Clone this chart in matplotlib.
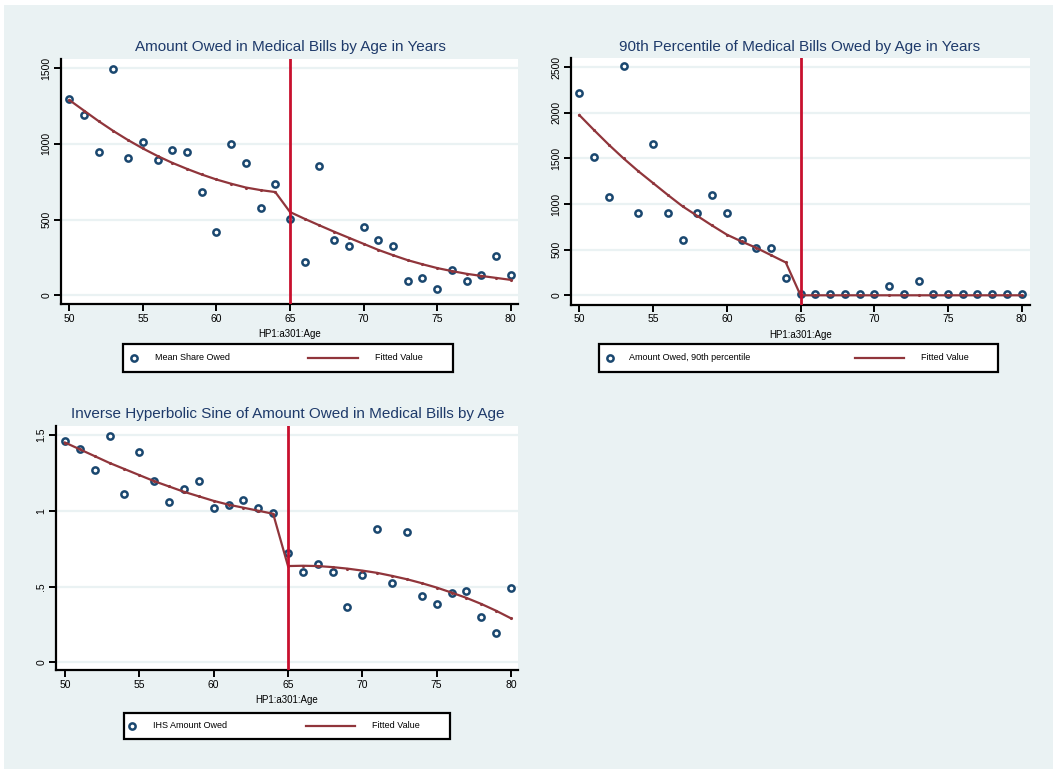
import numpy as np
import matplotlib.pyplot as plt
from matplotlib.lines import Line2D
from matplotlib.patches import Rectangle

plt.rcParams['font.family'] = ['Liberation Sans', 'DejaVu Sans']

W, H = 1053, 769
BG = '#eaf2f3'
NAVY = '#1a476f'
MAROON = '#90353b'
RED = '#c8102e'
TITLE_C = '#1e3a6a'

ages = list(range(50, 81))
fit_left = list(range(50, 65))
fit_right = list(range(65, 81))

# panel 1: mean amount owed
mean_owed = [1300, 1192, 945, 1493, 910, 1015, 892, 963, 945, 681,
             416, 998, 874, 575, 733, 502, 220, 857, 363, 326,
             452, 363, 326, 97, 115, 44, 170, 97, 132, 258, 134]
mean_fit_l = [1290, 1220, 1150, 1085, 1025, 970, 920, 875, 835, 798,
              765, 737, 712, 695, 682]
mean_fit_r = [550, 505, 462, 420, 380, 340, 300, 265, 232, 205,
              180, 160, 142, 128, 115, 102]

# panel 2: 90th percentile
p90_owed = [2218, 1512, 1072, 2511, 897, 1658, 897, 604, 897, 1102,
            897, 604, 516, 516, 194, 10, 10, 10, 10, 10,
            10, 102, 10, 161, 10, 10, 10, 10, 10, 10, 10]
p90_fit_l = [1975, 1810, 1650, 1500, 1360, 1230, 1100, 975, 870, 765,
             665, 590, 520, 440, 360]
p90_fit_r = [0, 0, 0, 0, 0, 0, 0, 0, 0, 0, 0, 0, 0, 0, 0, 0]

# panel 3: IHS amount owed
ihs_owed = [1.461, 1.408, 1.267, 1.496, 1.109, 1.390, 1.197, 1.056, 1.144, 1.197,
            1.021, 1.038, 1.074, 1.021, 0.986, 0.722, 0.597, 0.649, 0.597, 0.367,
            0.579, 0.880, 0.526, 0.862, 0.438, 0.385, 0.455, 0.473, 0.297, 0.191, 0.491]
ihs_fit_l = [1.45, 1.405, 1.36, 1.315, 1.275, 1.235, 1.195, 1.16, 1.125, 1.095,
             1.065, 1.04, 1.02, 1.0, 0.98]
ihs_fit_r = [0.635, 0.637, 0.635, 0.628, 0.618, 0.605, 0.59, 0.57, 0.548, 0.522,
             0.493, 0.46, 0.425, 0.385, 0.34, 0.29]

x_ticks = [50, 55, 60, 65, 70, 75, 80]
xlabel = 'HP1:a301:Age'


def fx(x):
    return x / W


def fy(y):
    return 1 - y / H


fig = plt.figure(figsize=(W / 100, H / 100), dpi=100)
fig.patch.set_facecolor('white')
fig.add_artist(Rectangle((fx(4), 0), 1 - fx(4), fy(5), transform=fig.transFigure,
                         facecolor=BG, edgecolor='none', zorder=-10))


def panel(box, xlim, ylim, yticks, yticklabels, y, fl, fr, title, tpos, leg):
    l, r, t, b = box
    ax = fig.add_axes([fx(l), fy(b), fx(r - l), (b - t) / H])
    ax.set_facecolor('white')
    ax.set_xlim(xlim)
    ax.set_ylim(ylim)
    for v in yticks:
        ax.axhline(v, color=BG, lw=1.6, zorder=0)
    ax.plot(ages, y, ls='none', marker='o', ms=4.5, mfc='white', mec=NAVY, mew=1.8, zorder=3)
    fit_x = fit_left + fit_right
    fit_y = fl + fr
    ax.plot(fit_x, fit_y, color=MAROON, lw=1.6, marker='.', ms=2.5, zorder=4)
    ax.axvline(65, color=RED, lw=2.0, zorder=5)
    for s in ['top', 'right']:
        ax.spines[s].set_visible(False)
    for s in ['left', 'bottom']:
        ax.spines[s].set_linewidth(1.6)
    ax.set_xticks(x_ticks)
    ax.set_yticks(yticks)
    ax.set_yticklabels(yticklabels, rotation=90, va='center')
    ax.tick_params(length=5, width=1.4, labelsize=7.5, pad=2)
    ax.set_xlabel(xlabel, fontsize=7, labelpad=4)
    fig.text(fx(tpos[0]), fy(tpos[1]), title, ha='center', va='center',
             fontsize=11, color=TITLE_C)
    # legend box
    bx0, by0, bx1, by1 = leg['box']
    fig.add_artist(Rectangle((fx(bx0), fy(by1)), fx(bx1 - bx0), (by1 - by0) / H,
                             transform=fig.transFigure, facecolor='white',
                             edgecolor='black', lw=1.6))
    cy = (by0 + by1) / 2
    fig.add_artist(Line2D([fx(leg['mk'])], [fy(cy)], transform=fig.transFigure, ls='none',
                          marker='o', ms=4.5, mfc='white', mec=NAVY, mew=1.8))
    fig.text(fx(leg['t1']), fy(cy), leg['lab1'], fontsize=6.5, va='center')
    fig.add_artist(Line2D([fx(leg['line'][0]), fx(leg['line'][1])], [fy(cy), fy(cy)],
                          transform=fig.transFigure, color=MAROON, lw=1.6))
    fig.text(fx(leg['t2']), fy(cy), 'Fitted Value', fontsize=6.5, va='center')
    return ax


panel((61, 518, 59, 304), (49.436, 80.496), (-57.5, 1561),
      [0, 500, 1000, 1500], ['0', '500', '1000', '1500'],
      mean_owed, mean_fit_l, mean_fit_r,
      'Amount Owed in Medical Bills by Age in Years', (290, 47),
      dict(box=(123, 344, 453, 372), mk=134, t1=155, line=(308, 358), t2=375,
           lab1='Mean Share Owed'))

panel((571, 1030, 58, 304.7), (49.437, 80.56), (-103, 2600),
      [0, 500, 1000, 1500, 2000, 2500], ['0', '500', '1000', '1500', '2000', '2500'],
      p90_owed, p90_fit_l, p90_fit_r,
      '90th Percentile of Medical Bills Owed by Age in Years', (800, 47),
      dict(box=(599, 344, 998, 372), mk=610, t1=629, line=(855, 904), t2=921,
           lab1='Amount Owed, 90th percentile'))

panel((56, 518, 426, 670), (49.395, 80.47), (-0.0508, 1.559),
      [0, 0.5, 1, 1.5], ['0', '.5', '1', '1.5'],
      ihs_owed, ihs_fit_l, ihs_fit_r,
      'Inverse Hyperbolic Sine of Amount Owed in Medical Bills by Age', (288, 414),
      dict(box=(124, 713, 450, 739), mk=132, t1=153, line=(306, 355), t2=372,
           lab1='IHS Amount Owed'))

fig.savefig('out.png', dpi=100)
